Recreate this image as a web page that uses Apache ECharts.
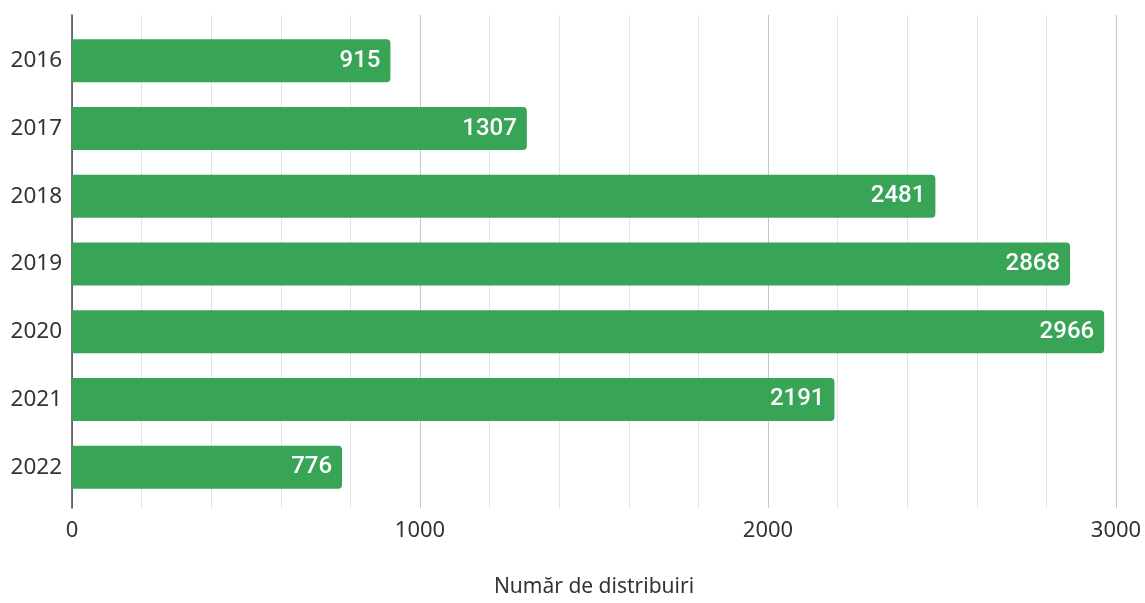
<!DOCTYPE html>
<html><head><meta charset="utf-8">
<script src="https://cdn.jsdelivr.net/npm/echarts@6/dist/echarts.min.js"></script>
<style>html,body{margin:0;padding:0;background:#fff}#c{width:1145px;height:603px}</style>
</head><body><div id="c"></div>
<script>
const categories = ['2016','2017','2018','2019','2020','2021','2022'];
const values = [915, 1307, 2481, 2868, 2966, 2191, 776];
const xTickMax = 3000;
const xTickStep = 1000;
const axisTitle = 'Număr de distribuiri';

const chart = echarts.init(document.getElementById('c'));
chart.setOption({
  animation: false,
  grid: [
    {left: 72, right: 29, top: 15, bottom: 90},
    {left: 72, right: 29, top: 27, bottom: 102}
  ],
  xAxis: [
    {gridIndex: 0, type: 'value', min: 0, max: xTickMax, interval: xTickStep,
     axisLine: {show: false}, axisTick: {show: false},
     axisLabel: {fontFamily: 'Noto Sans', fontSize: 22, color: '#333', margin: 12,
       formatter: v => String(v)},
     splitLine: {show: true, lineStyle: {color: '#c8c8c8', width: 1}},
     minorTick: {show: false, splitNumber: 5},
     minorSplitLine: {show: true, lineStyle: {color: '#e3e3e3', width: 1}},
     name: axisTitle, nameLocation: 'middle', nameGap: 69,
     nameTextStyle: {fontFamily: 'Noto Sans', fontSize: 21, color: '#333'}},
    {gridIndex: 1, type: 'value', min: 0, max: xTickMax, show: false}
  ],
  yAxis: [
    {gridIndex: 0, type: 'value', min: 0, max: 1, axisLabel: {show: false}, splitLine: {show: false},
     axisTick: {show: false}, axisLine: {show: true, lineStyle: {color: '#444', width: 1.5}}},
    {gridIndex: 1, type: 'category', data: categories, inverse: true,
     axisLine: {show: false}, axisTick: {show: false},
     axisLabel: {fontFamily: 'Noto Sans', fontSize: 22.5, color: '#333', margin: 10}}
  ],
  series: [{
    type: 'bar', xAxisIndex: 1, yAxisIndex: 1, data: values, barWidth: 43,
    itemStyle: {color: '#38a556', borderRadius: [0, 4, 4, 0]},
    label: {show: true, position: 'insideRight', distance: 10, color: '#fff',
      fontFamily: 'Roboto', fontWeight: 500, fontSize: 24}
  }]
});
</script></body></html>
